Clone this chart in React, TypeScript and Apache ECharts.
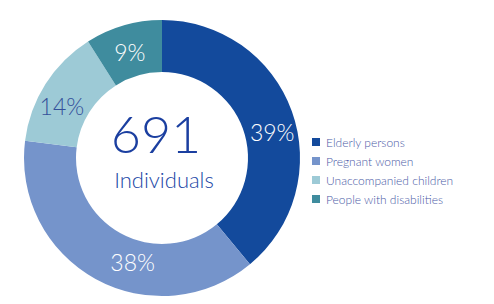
import React, { useEffect, useRef } from "react";
import * as echarts from "echarts";

const categories = ["Elderly persons", "Pregnant women", "Unaccompanied children", "People with disabilities"];
const percentages = [39, 38, 14, 9];
const totalIndividuals = "691";
const centerCaption = "Individuals";

const colors = ["#134A9C", "#7594CB", "#9DCAD6", "#3F8C9E"];
const labelColors = ["#FFFFFF", "#FFFFFF", "#34509A", "#FFFFFF"];
const labelOffsets = [[2, 13], [26, 3], [-3, 10], [0, 4]];

export default function App() {
  const ref = useRef<HTMLDivElement>(null);
  useEffect(() => {
    if (!ref.current) return;
    const chart = echarts.init(ref.current, null, { renderer: "svg" });
    const font = "Lato, 'Open Sans', sans-serif";
    chart.setOption({
      animation: false,
      backgroundColor: "#FFFFFF",
      legend: {
        orient: "vertical",
        left: 307,
        top: 130,
        itemWidth: 8,
        itemHeight: 8,
        itemGap: 5,
        icon: "rect",
        textStyle: { color: "#4A5AA6", fontSize: 12, fontFamily: font, fontWeight: 300, lineHeight: 14, padding: [0, 0, 0, 1] },
        data: categories,
      },
      graphic: [
        {
          type: "text",
          z: 100,
          style: {
            text: `{a|${totalIndividuals}}\n{b|${centerCaption}}`,
            x: 160,
            y: 149,
            align: "center",
            verticalAlign: "middle",
            rich: {
              a: {
                fontSize: 52,
                fontWeight: 300,
                fontFamily: font,
                lineHeight: 60,
                fill: "#1B3FA0",
                color: "#1B3FA0",
                padding: [0, 8, 0, 0],
              },
              b: {
                fontSize: 22,
                fontWeight: 300,
                fontFamily: font,
                lineHeight: 32,
                fill: "#2247A6",
                color: "#2247A6",
                padding: [0, 0, 0, 8],
              },
            },
          },
        },
      ],
      series: [
        {
          type: "pie",
          center: [162, 158],
          radius: [86, 138],
          startAngle: 90,
          clockwise: true,
          avoidLabelOverlap: false,
          label: {
            show: true,
            position: "inside",
            formatter: "{c}%",
            fontSize: 23,
            fontFamily: font,
            fontWeight: 300,
          },
          labelLine: { show: false },
          emphasis: { disabled: true },
          data: categories.map((name, i) => ({
            name,
            value: percentages[i],
            itemStyle: { color: colors[i] },
            label: { color: labelColors[i], offset: labelOffsets[i] },
          })),
        },
      ],
    });
    return () => chart.dispose();
  }, []);
  return <div ref={ref} style={{ position: "fixed", left: 0, top: 0, width: 494, height: 304 }} />;
}
